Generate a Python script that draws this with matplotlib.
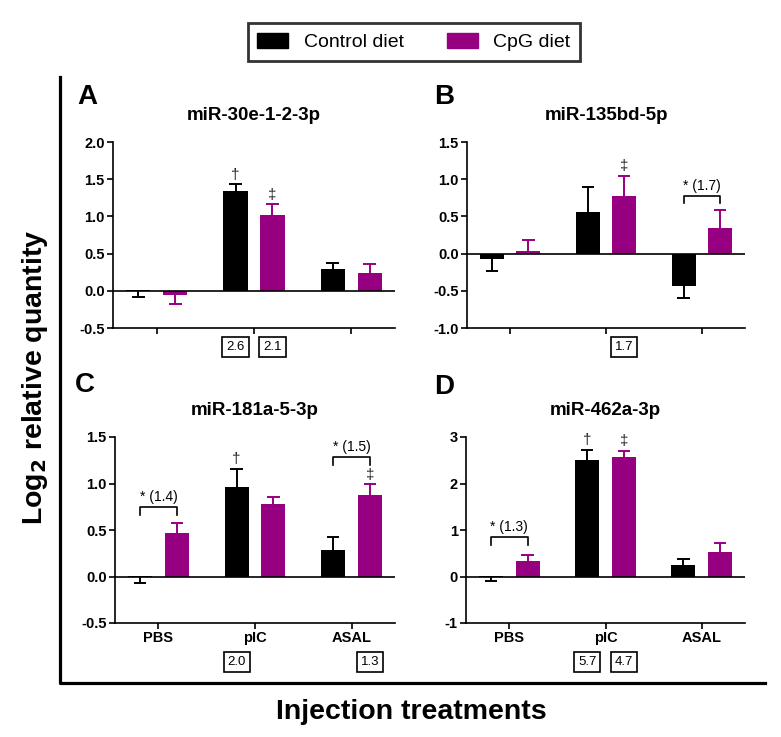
import numpy as np
import matplotlib
matplotlib.use('Agg')
from matplotlib import pyplot as plt
from matplotlib.patches import Patch
from matplotlib.lines import Line2D

plt.rcParams['font.family'] = ['Liberation Sans', 'DejaVu Sans']

groups = ['PBS', 'pIC', 'ASAL']
titles = ['miR-30e-1-2-3p', 'miR-135bd-5p', 'miR-181a-5-3p', 'miR-462a-3p']
letters = ['A', 'B', 'C', 'D']

# means and one-sided SEM (sign = direction of the error bar)
ctrl_A = [0.01, 1.34, 0.29]
ctrl_A_err = [-0.10, 0.09, 0.08]
cpg_A = [-0.06, 1.02, 0.24]
cpg_A_err = [-0.12, 0.14, 0.12]

ctrl_B = [-0.07, 0.56, -0.43]
ctrl_B_err = [-0.16, 0.34, -0.17]
cpg_B = [0.04, 0.77, 0.35]
cpg_B_err = [0.14, 0.27, 0.23]

ctrl_C = [0.01, 0.96, 0.28]
ctrl_C_err = [-0.08, 0.20, 0.14]
cpg_C = [0.47, 0.78, 0.88]
cpg_C_err = [0.11, 0.07, 0.11]

ctrl_D = [0.02, 2.50, 0.24]
ctrl_D_err = [-0.11, 0.23, 0.14]
cpg_D = [0.34, 2.56, 0.52]
cpg_D_err = [0.13, 0.14, 0.21]

ylims = [(-0.5, 2.0), (-1.0, 1.5), (-0.5, 1.5), (-1, 3)]
yticks = [np.arange(-0.5, 2.01, 0.5), np.arange(-1.0, 1.51, 0.5),
          np.arange(-0.5, 1.51, 0.5), np.arange(-1, 3.1, 1)]
ytick_fmt = ['%.1f', '%.1f', '%.1f', '%d']

# (panel, group, series 0=control 1=CpG, symbol)
marks = [(0, 1, 0, '\u2020'), (0, 1, 1, '\u2021'),
         (1, 1, 1, '\u2021'),
         (2, 1, 0, '\u2020'), (2, 2, 1, '\u2021'),
         (3, 1, 0, '\u2020'), (3, 1, 1, '\u2021')]

# fold-change boxes under the axes: (panel, group, series, label)
folds = [(0, 1, 0, '2.6'), (0, 1, 1, '2.1'),
         (1, 1, 1, '1.7'),
         (2, 1, 0, '2.0'), (2, 2, 1, '1.3'),
         (3, 1, 0, '5.7'), (3, 1, 1, '4.7')]

# diet comparison brackets: (panel, group, bracket height, leg bottom, label)
brackets = [(1, 2, 0.78, 0.68, '* (1.7)'),
            (2, 0, 0.75, 0.66, '* (1.4)'),
            (2, 2, 1.29, 1.20, '* (1.5)'),
            (3, 0, 0.85, 0.67, '* (1.3)')]

ctrl = [ctrl_A, ctrl_B, ctrl_C, ctrl_D]
ctrl_err = [ctrl_A_err, ctrl_B_err, ctrl_C_err, ctrl_D_err]
cpg = [cpg_A, cpg_B, cpg_C, cpg_D]
cpg_err = [cpg_A_err, cpg_B_err, cpg_C_err, cpg_D_err]

black = '#000000'
purple = '#960080'
W, H = 781, 737
fig = plt.figure(figsize=(W / 100, H / 100), dpi=100)

# axes boxes in pixels: left, top, right, bottom
boxes = [(113, 142, 395, 328), (467, 142, 745, 328),
         (115, 437, 395, 623), (466, 437, 745, 623)]
letter_pos = [(87, 97), (444, 97), (85, 385), (444, 387)]

x = np.arange(len(groups))
off = 0.19
bw = 0.25
cap = 0.065
axes = []
for i in range(4):
    l, t, r, b = boxes[i]
    ax = fig.add_axes([l / W, 1 - b / H, (r - l) / W, (b - t) / H])
    axes.append(ax)
    for s, (vals, errs, col) in enumerate([(ctrl[i], ctrl_err[i], black),
                                           (cpg[i], cpg_err[i], purple)]):
        xs = x + (-off if s == 0 else off)
        ax.bar(xs, vals, bw, color=col, zorder=2)
        ends = np.array(vals) + np.array(errs)
        # one-sided error bars, cap only at the far end
        ax.vlines(xs, vals, ends, color=col, lw=1.4, zorder=1)
        ax.hlines(ends, xs - cap, xs + cap, color=col, lw=1.4, zorder=1)
    ax.axhline(0, color='black', lw=1.2, zorder=3)
    ax.set_xlim(-0.45, 2.45)
    ax.set_ylim(*ylims[i])
    ax.set_yticks(yticks[i])
    ax.set_yticklabels([ytick_fmt[i] % v for v in yticks[i]],
                       fontsize=10.5, fontweight='bold')
    ax.set_xticks(x)
    if i >= 2:
        ax.set_xticklabels(groups, fontsize=10.5, fontweight='bold')
    else:
        ax.set_xticklabels([])
    for side in ['top', 'right']:
        ax.spines[side].set_visible(False)
    for side in ['left', 'bottom']:
        ax.spines[side].set_linewidth(1.2)
    ax.tick_params(width=1.2, length=4, pad=2)
    ax.set_title(titles[i], fontsize=13.5, fontweight='bold', pad=16)
    lx, ly = letter_pos[i]
    fig.text(lx / W, 1 - ly / H, letters[i], fontsize=20, fontweight='bold',
             ha='center', va='center')

for p, g, s, sym in marks:
    v = (ctrl if s == 0 else cpg)[p][g]
    e = (ctrl_err if s == 0 else cpg_err)[p][g]
    xs = g + (-off if s == 0 else off)
    axes[p].annotate(sym, (xs, v + e), xytext=(0, 2), textcoords='offset points',
                     ha='center', va='bottom', fontsize=11, color='#222222')

for p, g, s, lab in folds:
    xs = g + (-off if s == 0 else off)
    yb = -0.10 if p < 2 else -0.21
    axes[p].text(xs, yb, lab, transform=axes[p].get_xaxis_transform(),
                 ha='center', va='center', fontsize=9.5,
                 bbox=dict(boxstyle='square,pad=0.3', fc='white', ec='black', lw=1.2))

for p, g, yb, yl, lab in brackets:
    x0, x1 = g - off, g + off
    axes[p].plot([x0, x0, x1, x1], [yl, yb, yb, yl], color='black', lw=1.2)
    axes[p].annotate(lab, ((x0 + x1) / 2, yb), xytext=(0, 2), textcoords='offset points',
                     ha='center', va='bottom', fontsize=10)

# outer frame
fig.add_artist(Line2D([60 / W, 60 / W, 765 / W], [1 - 77 / H, 1 - 683 / H, 1 - 683 / H],
                      color='black', lw=2.3, transform=fig.transFigure))

fig.text(35 / W, 1 - 377 / H, 'Log$_\\mathbf{2}$ relative quantity', rotation=90,
         fontsize=20.5, fontweight='bold', ha='center', va='center')
fig.text(411 / W, 1 - 712 / H, 'Injection treatments', fontsize=20.5,
         fontweight='bold', ha='center', va='center')

handles = [Patch(color=black, label='Control diet'), Patch(color=purple, label='CpG diet')]
leg = fig.legend(handles=handles, loc='center', bbox_to_anchor=(414 / W, 1 - 42 / H),
                 ncol=2, fontsize=14, frameon=True, fancybox=False,
                 handlelength=1.6, handleheight=0.8, columnspacing=2.2,
                 borderpad=0.5, edgecolor='black')
leg.get_frame().set_linewidth(2)

plt.savefig('out.png', dpi=100)
